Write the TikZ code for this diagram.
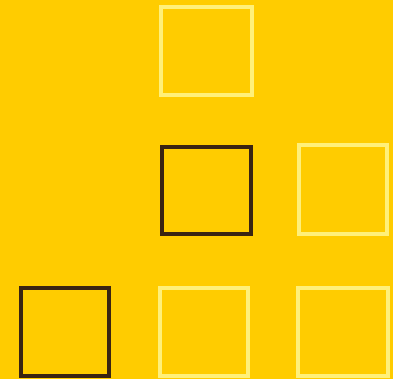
\documentclass[tikz,border=0pt]{standalone}
\definecolor{bg}{HTML}{FFCC00}
\definecolor{lightline}{HTML}{FFF07A}
\definecolor{darkline}{HTML}{3A2412}
\begin{document}
\begin{tikzpicture}[x=1pt,y=-1pt,
  sq/.style={draw, rectangle, line width=3.2pt, inner sep=0pt, outer sep=0pt, fill=none},
  lightsq/.style={sq, draw=lightline},
  darksq/.style={sq, draw=darkline}]
\fill[bg] (0,0) rectangle (393,379);
\useasboundingbox (0,0) rectangle (393,379);
\node[lightsq, minimum width=91pt, minimum height=88pt] (top) at (206.5,51) {};
\node[darksq, minimum width=89pt, minimum height=87pt] (middark) at (206.5,190.5) {};
\node[lightsq, minimum width=88pt, minimum height=89pt] (midlight) at (343,189.5) {};
\node[darksq, minimum width=88pt, minimum height=88pt] (botdark) at (65,332) {};
\node[lightsq, minimum width=88pt, minimum height=88pt] (botmid) at (204,332) {};
\node[lightsq, minimum width=90pt, minimum height=88pt] (botright) at (343,332) {};
\end{tikzpicture}
\end{document}
